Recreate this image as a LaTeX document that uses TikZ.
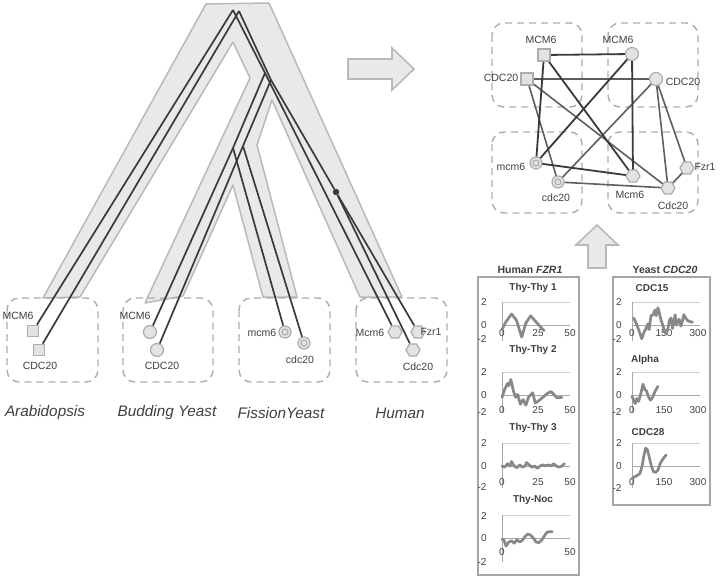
\documentclass[tikz,border=0pt]{standalone}
\usepackage{fontspec}
\setmainfont{Liberation Sans}
\usetikzlibrary{shapes.geometric}
\definecolor{treefill}{HTML}{E9E9E9}
\definecolor{treeedge}{HTML}{B9B9B9}
\definecolor{gline}{HTML}{3A3A3A}
\definecolor{gmid}{HTML}{5E5E5E}
\definecolor{nfill}{HTML}{E3E3E3}
\definecolor{nedge}{HTML}{ADADAD}
\definecolor{txt}{HTML}{3F3F3F}
\definecolor{boxc}{HTML}{ADADAD}
\definecolor{curvec}{HTML}{888888}
\definecolor{gridc}{HTML}{CFCFCF}
\definecolor{axisc}{HTML}{A9A9A9}
\definecolor{framec}{HTML}{A5A5A5}
\tikzset{
 sqnode/.style={rectangle,draw=nedge,fill=nfill,line width=1.2pt,minimum size=11.5pt,inner sep=0pt},
 cirnode/.style={circle,draw=nedge,fill=nfill,line width=1.2pt,minimum size=13pt,inner sep=0pt},
 dcnode/.style={circle,draw=nedge,fill=nfill,line width=1.2pt,minimum size=12pt,inner sep=0pt,
   path picture={\draw[nedge,line width=1.1pt] (path picture bounding box.center) circle[radius=3pt];}},
 hexnode/.style={regular polygon,regular polygon sides=6,draw=nedge,fill=nfill,line width=1.2pt,minimum size=14pt,inner sep=0pt},
 dotnode/.style={circle,fill=gline,minimum size=6.5pt,inner sep=0pt},
 lbl/.style={font=\fontsize{10.5}{12}\selectfont,text=txt,inner sep=0pt},
 species/.style={font=\fontsize{15.3}{17}\selectfont\itshape,text=txt,inner sep=0pt},
 dbox/.style={draw=boxc,dash pattern=on 7pt off 5pt,line width=1.4pt,rounded corners=12pt},
 gl/.style={draw=gline,line width=1.7pt},
 edk/.style={draw=gline,line width=1.8pt},
 edm/.style={draw=gmid,line width=1.6pt},
 bigarrow/.style={draw=treeedge,fill=treefill,line width=1.6pt},
 chartframe/.style={draw=framec,line width=1.6pt},
 gridl/.style={draw=gridc,line width=0.9pt},
 axisl/.style={draw=axisc,line width=0.9pt},
 datacurve/.style={draw=curvec,line width=2.7pt,line join=round,line cap=round},
 ticklbl/.style={font=\fontsize{10}{12}\selectfont,text=txt,inner sep=0pt},
 ctitle/.style={font=\bfseries\fontsize{10}{12}\selectfont,text=txt,inner sep=0pt},
}
\newcommand\chartaxes[5]{%
 \draw[gridl] (#1,#3) -- (#2,#3);
 \draw[axisl] (#1,#3) -- (#1,#5);
 \draw[axisl] (#1,#4) -- (#2,#4);}
\begin{document}
\begin{tikzpicture}[x=1pt,y=-1pt]
\useasboundingbox (0,0) rectangle (720,578);

% ---------------- species tree ----------------
\draw[treeedge,fill=treefill,line width=1.5pt,line join=round]
 (206,4) -- (269,3) -- (402,297) -- (360,297) -- (272,100) -- (257,145) -- (297,297) -- (263,297)
 -- (233,185) -- (183,296) -- (145,303) -- (250,78) -- (233,42) -- (80,297) -- (43,298) -- cycle;

% dashed species boxes
\draw[dbox] (7,298) rectangle (98,382);
\draw[dbox] (123,298) rectangle (213,382);
\draw[dbox] (239,298) rectangle (330,382);
\draw[dbox] (356,298) rectangle (447,382);

% gene nodes
\node[sqnode] (tAm) at (33,331) {};
\node[sqnode] (tAc) at (39,350) {};
\node[cirnode] (tBm) at (150,332) {};
\node[cirnode] (tBc) at (157,350) {};
\node[dcnode] (tFm) at (285,332) {};
\node[dcnode] (tFc) at (304,343) {};
\node[hexnode] (tHm) at (395,332) {};
\node[hexnode] (tHf) at (418,332) {};
\node[hexnode] (tHc) at (413,350) {};

% gene tree
\coordinate (apexA) at (233,10);
\coordinate (apexB) at (239,11);
\coordinate (sA1) at (265,73);
\coordinate (sB1) at (271,80);
\coordinate (sA2) at (233,148);
\coordinate (sB2) at (243,146);
\node[dotnode] (hdot) at (336,192) {};

\draw[gl] (apexA) -- (tAm);
\draw[gl] (apexB) -- (tAc);
\draw[gl] (apexA) -- (sA1) -- (tHm);
\draw[gl] (sA1) -- (sA2) -- (tBm);
\draw[gl] (sA2) -- (tFm);
\draw[gl] (apexB) -- (sB1) -- (hdot) -- (tHf);
\draw[gl] (hdot) -- (tHc);
\draw[gl] (sB1) -- (sB2) -- (tBc);
\draw[gl] (sB2) -- (tFc);

% gene labels
\node[lbl] (lAm) at (18,316) {MCM6};
\node[lbl] (lAc) at (40,366) {CDC20};
\node[lbl] (lBm) at (135,316) {MCM6};
\node[lbl] (lBc) at (162,366) {CDC20};
\node[lbl] (lFm) at (262,333) {mcm6};
\node[lbl] (lFc) at (300,360) {cdc20};
\node[lbl] (lHm) at (370,333) {Mcm6};
\node[lbl] (lHf) at (431,332) {Fzr1};
\node[lbl] (lHc) at (418,367) {Cdc20};

% species names
\node[species] (sp1) at (45,413) {Arabidopsis};
\node[species] (sp2) at (167,413) {Budding Yeast};
\node[species] (sp3) at (281,413) {FissionYeast};
\node[species] (sp4) at (400,413) {Human};

% ---------------- arrows ----------------
\draw[bigarrow] (348,59) -- (392,59) -- (392,48) -- (414,69) -- (392,90) -- (392,79) -- (348,79) -- cycle;
\draw[bigarrow] (588,268) -- (588,245) -- (576,245) -- (597,225) -- (618,245) -- (606,245) -- (606,268) -- cycle;

% ---------------- network ----------------
\draw[dbox] (492,23) rectangle (582,107);
\draw[dbox] (608,23) rectangle (698,107);
\draw[dbox] (492,132) rectangle (582,213);
\draw[dbox] (608,132) rectangle (698,213);

\coordinate (nAm) at (544,55);
\coordinate (nAc) at (527,79);
\coordinate (nBm) at (632,54);
\coordinate (nBc) at (656,79);
\coordinate (nFm) at (536,163);
\coordinate (nFc) at (558,182);
\coordinate (nHm) at (633,176);
\coordinate (nHf) at (687,168);
\coordinate (nHc) at (668,188);

\draw[edm] (nAc) -- (nBc);
\draw[edm] (nAc) -- (nFc);
\draw[edm] (nAc) -- (nHc);
\draw[edm] (nBc) -- (nFc);
\draw[edm] (nBc) -- (nHc);
\draw[edm] (nBc) -- (nHf);
\draw[edm] (nFc) -- (nHc);
\draw[edm] (nHf) -- (nHc);
\draw[edk] (nAm) -- (nBm);
\draw[edk] (nAm) -- (nFm);
\draw[edk] (nAm) -- (nHm);
\draw[edk] (nBm) -- (nFm);
\draw[edk] (nBm) -- (nHm);
\draw[edk] (nFm) -- (nHm);

\node[sqnode,minimum size=12pt] (vAm) at (nAm) {};
\node[sqnode,minimum size=12pt] (vAc) at (nAc) {};
\node[cirnode] (vBm) at (nBm) {};
\node[cirnode] (vBc) at (nBc) {};
\node[dcnode] (vFm) at (nFm) {};
\node[dcnode] (vFc) at (nFc) {};
\node[hexnode] (vHm) at (nHm) {};
\node[hexnode] (vHf) at (nHf) {};
\node[hexnode] (vHc) at (nHc) {};

\node[lbl] (mAm) at (541,40) {MCM6};
\node[lbl] (mAc) at (501,78) {CDC20};
\node[lbl] (mBm) at (618,40) {MCM6};
\node[lbl] (mBc) at (683,82) {CDC20};
\node[lbl] (mFm) at (511,167) {mcm6};
\node[lbl] (mFc) at (556,198) {cdc20};
\node[lbl] (mHm) at (630,195) {Mcm6};
\node[lbl] (mHf) at (705,167) {Fzr1};
\node[lbl] (mHc) at (673,206) {Cdc20};

% ---------------- charts ----------------
\node[ctitle,font=\bfseries\fontsize{10.5}{12}\selectfont] (ht) at (530,270) {Human \textit{FZR1}};
\node[ctitle,font=\bfseries\fontsize{10.5}{12}\selectfont] (yt) at (665,270) {Yeast \textit{CDC20}};
\draw[chartframe] (478,277) rectangle (579,575);
\draw[chartframe] (613,277) rectangle (710,505);

% Thy-Thy 1
\chartaxes{502}{570}{302}{325}{341}
\node[ctitle] (c1t) at (533,288) {Thy-Thy 1};
\node[ticklbl] (c1a) at (484,302) {2};
\node[ticklbl] (c1b) at (484,325) {0};
\node[ticklbl] (c1c) at (482,339) {-2};
\node[ticklbl] (c1d) at (502,333) {0};
\node[ticklbl] (c1e) at (538,333) {25};
\node[ticklbl] (c1f) at (570,333) {50};
\begin{scope}[shift={(502,325)},x=1.36pt,y=11.5pt]
\draw[datacurve] plot coordinates {(0,-0.4) (3,0.3) (7,0.95) (10.5,0.45) (14.5,-1.05) (17.5,0.15) (21,0.8) (25.5,0.2) (31,-0.5)};
\end{scope}

% Thy-Thy 2
\chartaxes{502}{570}{372}{395}{413}
\node[ctitle] (c2t) at (533,350) {Thy-Thy 2};
\node[ticklbl] (c2a) at (484,372) {2};
\node[ticklbl] (c2b) at (484,395) {0};
\node[ticklbl] (c2c) at (482,412) {-2};
\node[ticklbl] (c2d) at (502,410) {0};
\node[ticklbl] (c2e) at (538,410) {25};
\node[ticklbl] (c2f) at (570,410) {50};
\begin{scope}[shift={(502,395)},x=1.36pt,y=11.5pt]
\draw[datacurve] plot coordinates {(0,-0.2) (2,0.5) (4,1.0) (5,0.8) (6.5,1.35) (8.5,0.3) (10,-0.2) (11.5,0.05) (13.5,-0.8) (15.5,-0.4) (17.5,-0.9) (19.5,-0.2) (22.5,0.2) (24.5,-0.7) (27,-0.5) (29,-0.3) (31,-0.1) (33.5,0.15) (36,0.3) (38.5,0) (40.5,-0.25) (44,-0.2)};
\end{scope}

% Thy-Thy 3
\chartaxes{502}{570}{443}{466}{488}
\node[ctitle] (c3t) at (533,428) {Thy-Thy 3};
\node[ticklbl] (c3a) at (484,443) {2};
\node[ticklbl] (c3b) at (484,466) {0};
\node[ticklbl] (c3c) at (482,487) {-2};
\node[ticklbl] (c3d) at (502,482) {0};
\node[ticklbl] (c3e) at (538,482) {25};
\node[ticklbl] (c3f) at (570,482) {50};
\begin{scope}[shift={(502,466)},x=1.36pt,y=11.5pt]
\draw[datacurve] plot coordinates {(0,0) (2,-0.1) (4,0.2) (6,0) (7,0.4) (9,0) (11,-0.15) (13,0.1) (15,-0.1) (17,0) (18,0.3) (20,0.1) (22,-0.1) (24,0) (26,-0.2) (28,0) (30,0.1) (32,0) (34,0.1) (36,0) (38,0.2) (40,0) (42,-0.1) (44,0) (46,0.2)};
\end{scope}

% Thy-Noc
\chartaxes{502}{570}{515}{538}{562}
\node[ctitle] (c4t) at (533,500) {Thy-Noc};
\node[ticklbl] (c4a) at (484,516) {2};
\node[ticklbl] (c4b) at (484,538) {0};
\node[ticklbl] (c4c) at (482,562) {-2};
\node[ticklbl] (c4d) at (502,552) {0};
\node[ticklbl] (c4f) at (570,552) {50};
\begin{scope}[shift={(502,538)},x=1.36pt,y=11.5pt]
\draw[datacurve] plot coordinates {(0,-0.1) (1.5,-0.2) (3,-0.7) (5,-0.35) (7,-0.25) (9,-0.45) (11,-0.15) (13,-0.35) (15,-0.2) (17,0.15) (19,0.35) (21,0.25) (23,0) (25,-0.35) (27,-0.4) (29,-0.2) (31,0.15) (33,0.5) (35,0.55) (37,0.55)};
\end{scope}

% CDC15
\chartaxes{632}{700}{302}{325}{341}
\node[ctitle] (c5t) at (652,288) {CDC15};
\node[ticklbl] (c5a) at (619,302) {2};
\node[ticklbl] (c5b) at (619,325) {0};
\node[ticklbl] (c5c) at (617,339) {-2};
\node[ticklbl] (c5d) at (632,333) {0};
\node[ticklbl] (c5e) at (664,333) {150};
\node[ticklbl] (c5f) at (698,333) {300};
\begin{scope}[shift={(632,325)},x=0.22pt,y=11.5pt]
\draw[datacurve] plot coordinates {(8,0.6) (20,0.1) (32,-0.5) (44,-1.2) (55,-0.6) (64,-0.3) (72,0.1) (78,-0.4) (86,0.8) (96,0.9) (104,1.3) (110,0.8) (118,1.5) (126,0.9) (132,0.4) (140,0) (148,-0.6) (156,-0.8) (164,-0.2) (172,0.5) (178,0.6) (184,-0.3) (190,0.2) (196,0.9) (202,0) (208,0.3) (214,0.5) (222,-0.1) (228,0.3) (236,0.9) (244,0.6) (252,0.4) (262,0.3) (275,0.25)};
\end{scope}

% Alpha
\chartaxes{632}{700}{372}{395}{413}
\node[ctitle] (c6t) at (645,360) {Alpha};
\node[ticklbl] (c6a) at (619,372) {2};
\node[ticklbl] (c6b) at (619,395) {0};
\node[ticklbl] (c6c) at (617,412) {-2};
\node[ticklbl] (c6d) at (632,410) {0};
\node[ticklbl] (c6e) at (664,410) {150};
\node[ticklbl] (c6f) at (698,410) {300};
\begin{scope}[shift={(632,395)},x=0.22pt,y=11.5pt]
\draw[datacurve] plot coordinates {(0,-0.1) (8,-0.5) (15,-0.75) (22,-0.3) (30,-0.55) (40,0.1) (50,0.95) (58,0.5) (66,0.35) (76,-0.2) (84,-0.45) (94,-0.2) (104,0.3) (118,0.75)};
\end{scope}

% CDC28
\chartaxes{632}{700}{443}{466}{488}
\node[ctitle] (c7t) at (648,432) {CDC28};
\node[ticklbl] (c7a) at (619,443) {2};
\node[ticklbl] (c7b) at (619,466) {0};
\node[ticklbl] (c7c) at (617,488) {-2};
\node[ticklbl] (c7d) at (632,482) {0};
\node[ticklbl] (c7e) at (664,482) {150};
\node[ticklbl] (c7f) at (698,482) {300};
\begin{scope}[shift={(632,466)},x=0.22pt,y=11.5pt]
\draw[datacurve] plot coordinates {(0,-1.1) (10,-0.95) (22,-0.85) (36,-0.65) (46,0) (54,0.9) (62,1.55) (70,1.4) (78,0.8) (88,0) (98,-0.5) (108,-0.55) (118,-0.35) (128,0.2) (140,0.6) (155,0.95)};
\end{scope}
\end{tikzpicture}
\end{document}
